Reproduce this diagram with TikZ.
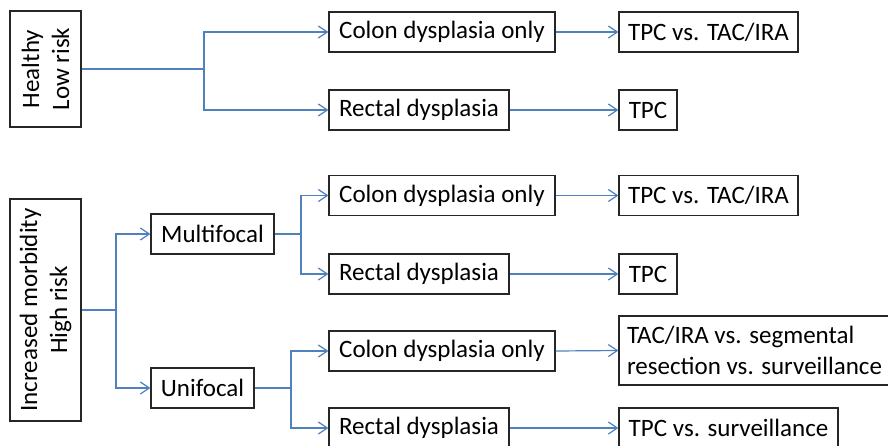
\documentclass[tikz,border=0pt]{standalone}
\usepackage{fontspec}
\setmainfont{Carlito}
\usetikzlibrary{arrows.meta}
\definecolor{linkblue}{RGB}{79,129,189}
\definecolor{boxline}{RGB}{38,38,38}

\begin{document}
\begin{tikzpicture}[x=1pt,y=-1pt]
  \tikzstyle{grp}=[draw=boxline,line width=1.2pt,rotate=90,align=center,
    minimum height=71pt,inner sep=0pt,font=\fontsize{25}{30}\selectfont]
  \tikzstyle{opt}=[draw=boxline,line width=1.2pt,minimum height=40pt,inner sep=0pt,
    align=left,font=\fontsize{25}{31}\selectfont]
  \tikzstyle{ln}=[linkblue,line width=1.2pt]
  \tikzstyle{f}=[ln,-{Straight Barb[length=9pt,width=12pt,line width=1.2pt]}]

  \useasboundingbox (0,0) rectangle (888,445);

  % low risk branch
  \node[grp,minimum width=116pt] (healthy) at (45.5,69) {Healthy\\Low risk};
  \node[opt,minimum width=226pt] (colA) at (442,32) {Colon dysplasia only};
  \node[opt,minimum width=180pt] (recA) at (419,110) {Rectal dysplasia};
  \node[opt,minimum width=179pt] (resA1) at (708.5,32) {TPC vs. TAC/IRA};
  \node[opt,minimum width=58pt] (resA2) at (648,110) {TPC};

  % high risk branch
  \node[grp,minimum width=222pt] (incr) at (45.5,310) {Increased morbidity\\High risk};
  \node[opt,minimum width=123pt] (multi) at (212.5,234) {Multifocal};
  \node[opt,minimum width=103pt] (uni) at (202.5,388) {Unifocal};
  \node[opt,minimum width=226pt] (colB) at (442,195.5) {Colon dysplasia only};
  \node[opt,minimum width=180pt] (recB) at (419,274) {Rectal dysplasia};
  \node[opt,minimum width=179pt] (resB1) at (708.5,195.5) {TPC vs. TAC/IRA};
  \node[opt,minimum width=58pt] (resB2) at (648,274) {TPC};
  \node[opt,minimum width=226pt] (colC) at (442,351) {Colon dysplasia only};
  \node[opt,minimum width=180pt] (recC) at (419,428) {Rectal dysplasia};
  \node[opt,minimum width=271pt,minimum height=69pt] (resC1) at (754.5,350.5)
    {TAC/IRA vs. segmental\\resection vs. surveillance};
  \node[opt,minimum width=219pt] (resC2) at (728.5,428) {TPC vs. surveillance};

  % junctions
  \coordinate (hj) at (204,69);
  \coordinate (ij) at (116,310);
  \coordinate (mj) at (301,234);
  \coordinate (uj) at (291,388);

  \draw[ln] (healthy.south) -- (hj);
  \draw[f] (hj) |- (colA.west);
  \draw[f] (hj) |- (recA.west);
  \draw[f] (colA.east) -- (resA1.west);
  \draw[f] (recA.east) -- (resA2.west);

  \draw[ln] (incr.south) -- (ij);
  \draw[f] (ij) |- (multi.west);
  \draw[f] (ij) |- (uni.west);
  \draw[ln] (multi.east) -- (mj);
  \draw[f] (mj) |- (colB.west);
  \draw[f] (mj) |- (recB.west);
  \draw[ln] (uni.east) -- (uj);
  \draw[f] (uj) |- (colC.west);
  \draw[f] (uj) |- (recC.west);
  \draw[f] (colB.east) -- (resB1.west);
  \draw[f] (recB.east) -- (resB2.west);
  \draw[f] (colC.east) -- (resC1.west);
  \draw[f] (recC.east) -- (resC2.west);
\end{tikzpicture}
\end{document}
